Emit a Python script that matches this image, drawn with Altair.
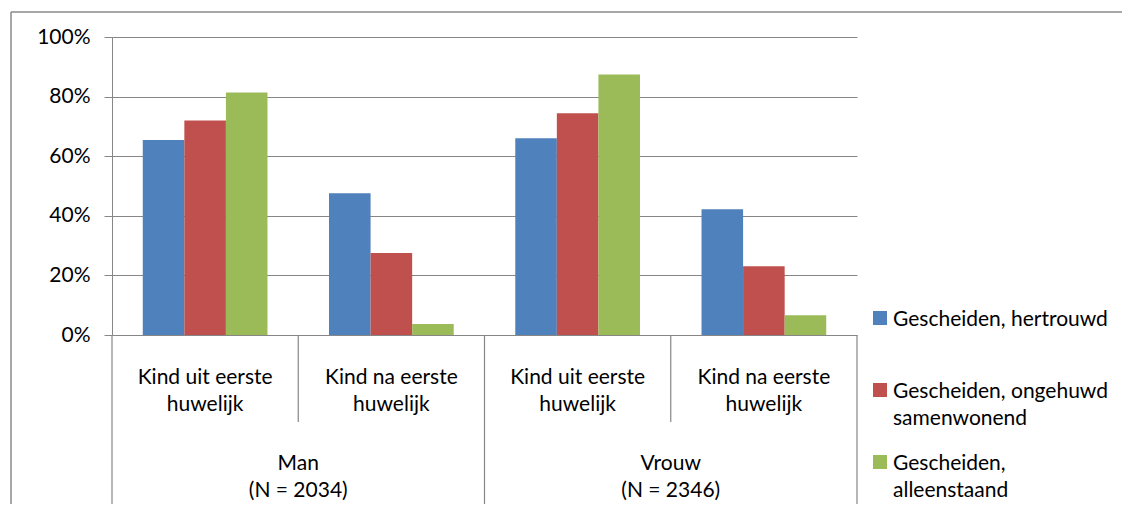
import altair as alt
import pandas as pd

geslacht = ["Man", "Vrouw"]
group_labels = ["Man\n(N = 2034)", "Vrouw\n(N = 2346)"]
kind = ["Kind uit eerste huwelijk", "Kind na eerste huwelijk"]
kind_lines = ["Kind uit eerste\nhuwelijk", "Kind na eerste\nhuwelijk"]
series = ["Gescheiden, hertrouwd", "Gescheiden, ongehuwd samenwonend", "Gescheiden, alleenstaand"]
series_lines = ["Gescheiden, hertrouwd", "Gescheiden, ongehuwd\nsamenwonend", "Gescheiden,\nalleenstaand"]
colors = ["#4F81BD", "#C0504D", "#9BBB59"]
# values per category: Man-uit, Man-na, Vrouw-uit, Vrouw-na
hertrouwd = [65.4, 47.6, 66.0, 42.2]
ongehuwd = [72.0, 27.5, 74.4, 23.1]
alleenstaand = [81.4, 3.7, 87.4, 6.6]
y_ticks = [0, 20, 40, 60, 80, 100]

FONT = "Lato"
FS = 21
GRAY = "#868686"

cats = [f"{g} | {k}" for g in geslacht for k in kind]
vals = [hertrouwd, ongehuwd, alleenstaand]

bars_df = pd.DataFrame(
    [{"cat": c, "series": s, "value": v[i]} for s, v in zip(series, vals) for i, c in enumerate(cats)]
)
cat_lbl_df = pd.DataFrame({"cat": cats, "label": [kind_lines[i % 2] for i in range(len(cats))]})
grp_df = pd.DataFrame({"cat": [cats[0], cats[2]], "label": group_labels})
long_df = pd.DataFrame({"cat": [cats[0], cats[2]]})
short_df = pd.DataFrame({"cat": [cats[1], cats[3]]})
last_df = pd.DataFrame({"cat": [cats[-1]]})
leg_df = pd.DataFrame({"series": series, "label": series_lines})
one = pd.DataFrame({"k": [0]})

x_scale = alt.Scale(type="band", domain=cats, paddingInner=0, paddingOuter=0)
color_scale = alt.Scale(domain=series, range=colors)

bars = alt.Chart(bars_df).mark_bar().encode(
    x=alt.X("cat:N", scale=x_scale, axis=None, sort=cats),
    xOffset=alt.XOffset("series:N", sort=series,
                        scale=alt.Scale(domain=series, paddingInner=0, paddingOuter=0.74)),
    y=alt.Y("value:Q", scale=alt.Scale(domain=[0, 100], nice=False),
            axis=alt.Axis(values=y_ticks, labelExpr="datum.value + '%'", grid=True,
                          gridColor=GRAY, gridWidth=1, domainColor=GRAY, tickColor=GRAY,
                          tickSize=8, labelPadding=14, labelFont=FONT, labelFontSize=FS,
                          labelColor="black", title=None)),
    color=alt.Color("series:N", scale=color_scale, legend=None),
)

rule_kw = dict(color=GRAY, strokeWidth=1.2)
long_rules = alt.Chart(long_df).mark_rule(**rule_kw).encode(
    x=alt.X("cat:N", scale=x_scale, bandPosition=0), y=alt.value(298), y2=alt.value(480))
short_rules = alt.Chart(short_df).mark_rule(**rule_kw).encode(
    x=alt.X("cat:N", scale=x_scale, bandPosition=0), y=alt.value(298), y2=alt.value(385))
last_rule = alt.Chart(last_df).mark_rule(**rule_kw).encode(
    x=alt.X("cat:N", scale=x_scale, bandPosition=1), y=alt.value(298), y2=alt.value(480))

txt_kw = dict(font=FONT, fontSize=FS, color="black", baseline="top", dy=-9,
              lineBreak="\n", lineHeight=27)
cat_text = alt.Chart(cat_lbl_df).mark_text(align="center", **txt_kw).encode(
    x=alt.X("cat:N", scale=x_scale, bandPosition=0.5), y=alt.value(338.5), text="label:N")
grp_text = alt.Chart(grp_df).mark_text(align="center", **txt_kw).encode(
    x=alt.X("cat:N", scale=x_scale, bandPosition=1), y=alt.value(425), text="label:N")

leg_y = alt.Y("series:N", sort=series,
              scale=alt.Scale(type="point", domain=series, range=[281, 425], padding=0), axis=None)
leg_sq = alt.Chart(leg_df).mark_square(size=196, opacity=1).encode(
    x=alt.value(768), y=leg_y, color=alt.Color("series:N", scale=color_scale, legend=None))
leg_txt = alt.Chart(leg_df).mark_text(align="left", **txt_kw).encode(
    x=alt.value(781), y=leg_y, text="label:N")

frame_top = alt.Chart(one).mark_rule(color="#8A8A8A", strokeWidth=1.5).encode(
    x=alt.value(-101), x2=alt.value(1020), y=alt.value(-25))
frame_left = alt.Chart(one).mark_rule(color="#8A8A8A", strokeWidth=1.5).encode(
    x=alt.value(-101), y=alt.value(-25), y2=alt.value(480))

chart = alt.layer(
    frame_top, frame_left, bars, long_rules, short_rules, last_rule,
    cat_text, grp_text, leg_sq, leg_txt,
).resolve_scale(y="independent").properties(
    width=745, height=298,
    autosize=alt.AutoSizeParams(type="none"),
    padding={"left": 104, "top": 29, "right": 265, "bottom": 169},
).configure_view(stroke=None)

chart.save("out.html", embed_options={"renderer": "svg", "actions": False})
